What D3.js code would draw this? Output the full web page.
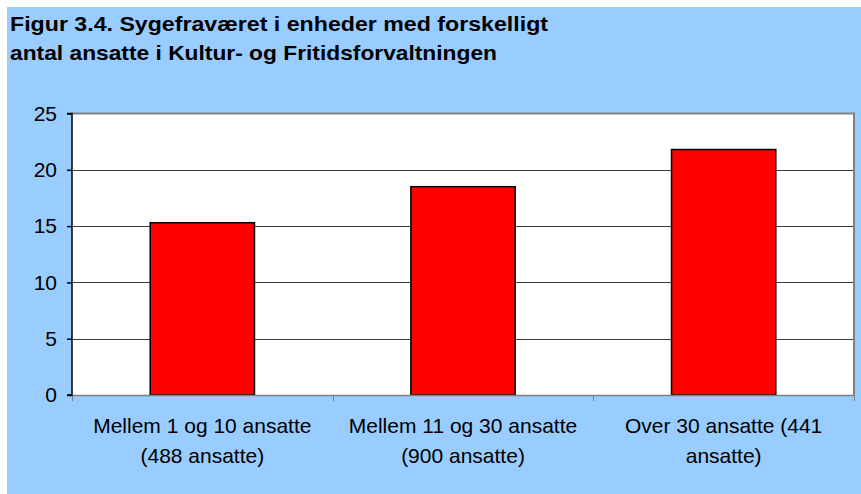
<!DOCTYPE html>
<html><head><meta charset="utf-8">
<script src="https://cdn.jsdelivr.net/npm/d3@7"></script>
<style>html,body{margin:0;padding:0;background:#fff;}svg{display:block;}</style>
</head><body>
<svg id="c" width="861" height="494"></svg>
<script>
const titleLines = ["Figur 3.4. Sygefraværet i enheder med forskelligt", "antal ansatte i Kultur- og Fritidsforvaltningen"];
const categories = ["Mellem 1 og 10 ansatte\n(488 ansatte)", "Mellem 11 og 30 ansatte\n(900 ansatte)", "Over 30 ansatte (441\nansatte)"];
const values = [15.3, 18.5, 21.8];
const yTicks = [0, 5, 10, 15, 20, 25];

const svg = d3.select("#c");
const W = 861, H = 494;
const font = "'Liberation Sans', Arial, sans-serif";

svg.append("rect").attr("x", 7).attr("y", 7).attr("width", W - 7).attr("height", H - 7).attr("fill", "#99CCFF");

const title = svg.append("g");
const titleW = [538, 487];
titleLines.forEach((t, i) => {
  title.append("text").attr("x", 10).attr("y", 31 + i * 29)
    .attr("font-family", font).attr("font-weight", "bold").attr("font-size", 21)
    .attr("textLength", titleW[i]).attr("lengthAdjust", "spacingAndGlyphs")
    .attr("fill", "#000").text(t);
});

const L = 72, R = 854, T = 113.5, B = 395;
const x = d3.scaleBand().domain(categories).range([L, R]).paddingInner(0.6).paddingOuter(0.3);
const xb = d3.scaleBand().domain(categories).range([L, R]);
const y = d3.scaleLinear().domain([0, 25]).range([B, T]);

svg.append("rect").attr("x", L).attr("y", T).attr("width", R - L).attr("height", B - T).attr("fill", "#fff");

// gridlines
svg.append("g").selectAll("line").data(yTicks.filter(d => d > 0 && d < 25)).join("line")
  .attr("x1", L).attr("x2", R).attr("y1", d => Math.round(y(d)) + 0.5).attr("y2", d => Math.round(y(d)) + 0.5)
  .attr("stroke", "#3a3a3a").attr("stroke-width", 1);

// plot border top & right
svg.append("path").attr("d", `M${L},${T}H${R}V${B}`).attr("fill", "none").attr("stroke", "#808080").attr("stroke-width", 2);

// bars
svg.append("g").selectAll("rect").data(values).join("rect")
  .attr("x", (d, i) => x(categories[i])).attr("width", x.bandwidth())
  .attr("y", d => y(d)).attr("height", d => B - y(d))
  .attr("fill", "#FF0000").attr("stroke", "#000").attr("stroke-width", 1.5);

// x axis
const xAxis = svg.append("g").attr("transform", `translate(0,${B})`);
xAxis.append("line").attr("x1", L).attr("x2", R).attr("y1", 0.5).attr("y2", 0.5).attr("stroke", "#808080").attr("stroke-width", 1.5);
const bounds = categories.map(c => xb(c)).concat([R]);
xAxis.selectAll("line.tk").data(bounds).join("line").attr("class", "tk")
  .attr("x1", d => Math.round(d) + 0.5).attr("x2", d => Math.round(d) + 0.5).attr("y1", 0).attr("y2", 6)
  .attr("stroke", "#808080").attr("stroke-width", 1);
categories.forEach(c => {
  const lines = c.split("\n");
  const t = xAxis.append("text").attr("text-anchor", "middle").attr("font-family", font).attr("font-size", 21).attr("fill", "#000");
  lines.forEach((ln, j) => {
    t.append("tspan").attr("x", xb(c) + xb.bandwidth() / 2).attr("y", 38 + j * 30).text(ln);
  });
});

// y axis
const yAxis = svg.append("g").attr("transform", `translate(${L},0)`)
  .call(d3.axisLeft(y).tickValues(yTicks).tickSize(5).tickPadding(10).tickFormat(d3.format("d")));
yAxis.selectAll("path,line").attr("stroke", "#000").attr("stroke-width", 1.5);
yAxis.select("path.domain").attr("d", `M-5,${T}H0V${B}H-5`);
yAxis.selectAll("text").attr("font-family", font).attr("font-size", 21).attr("fill", "#000");
</script>
</body></html>
